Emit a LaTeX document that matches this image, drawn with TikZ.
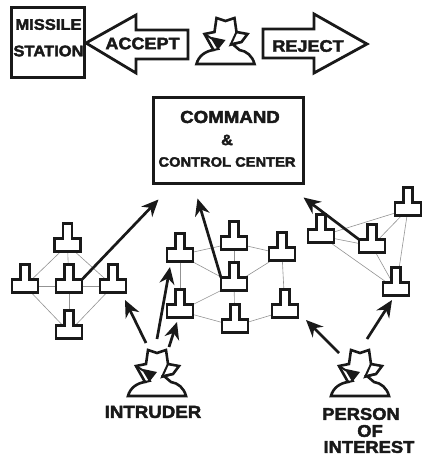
\documentclass[tikz,border=0pt]{standalone}
\usepackage{fontspec}
\setmainfont[BoldFeatures={FakeBold=2.5, FakeStretch=1.08}]{Liberation Sans}
\usetikzlibrary{arrows.meta}
\usetikzlibrary{calc}

\begin{document}
\begin{tikzpicture}[
    x=1pt, y=-1pt,
    % Node styles
    sensor/.style={rectangle, minimum width=26pt, minimum height=13pt, inner sep=0pt, outer sep=0pt},
    sensorline/.style={line width=2.8pt, draw=black!90, fill=white, line join=miter},
    caption/.style={inner sep=0pt, font=\bfseries, text=black!90},
    % Boxes and the two big arrows
    framebox/.style={line width=3pt, draw=black!90},
    bigarrow/.style={line width=2.8pt, draw=black!90, line join=miter},
    % Links and arrows of the network
    link/.style={line width=0.6pt, draw=gray!85},
    flow/.style={line width=2.7pt, draw=black!90, -{Stealth[length=17pt, width=15pt]}},
    % Hooded figure
    agent/.pic={
        \draw[line width=2.6pt, draw=black!90, fill=white, line join=miter]
            (-29,0) .. controls (-27,-8) and (-20,-13) .. (-12,-14)
            -- (-21,-30) -- (-11,-32) -- (-9,-46) -- (0,-43) -- (9,-46) -- (11,-32)
            -- (22,-30) -- (16,-22) -- (7,-20) -- (14,-14)
            .. controls (21,-13) and (27,-8) .. (29,0) -- cycle;
        \fill[black!90] (-14,-27) -- (0,-24) -- (-7,-15) -- (-10,-20) -- cycle;
        \draw[line width=2pt, black!90] (-21,-30) -- (-13,-25) -- (-7,-15) -- (-12,-14);
        \draw[line width=2pt, black!90] (11,-32) -- (5,-19) -- (16,-22);
    }
]

    % =========================================================================
    % 1. TOP ROW: STATION, ACCEPT / REJECT
    % =========================================================================
    \useasboundingbox (0,0) rectangle (428,460);

    \node[framebox, draw, minimum width=73pt, minimum height=70pt] (station) at (48,42.5) {};
    \node[caption, font=\bfseries\fontsize{15.3}{15.3}\selectfont] (missile) at (48.5,24.5) {MISSILE};
    \node[caption, font=\bfseries\fontsize{15.3}{15.3}\selectfont] (stationtext) at (48.5,51) {STATION};

    \draw[bigarrow] (86,43) -- (136,15) -- (136,30) -- (188,30) -- (188,59) -- (136,59) -- (136,73) -- cycle;
    \node[caption, font=\bfseries\fontsize{16.7}{16.7}\selectfont] (accept) at (142.5,43.5) {ACCEPT};

    \draw[bigarrow] (367,44) -- (314,14) -- (314,29) -- (263,29) -- (263,58) -- (314,58) -- (314,73) -- cycle;
    \node[caption, font=\bfseries\fontsize{16.7}{16.7}\selectfont] (reject) at (308,46) {REJECT};

    % =========================================================================
    % 2. COMMAND CENTER
    % =========================================================================
    \node[framebox, draw, minimum width=150pt, minimum height=86pt] (command) at (228,140) {};
    \node[caption, font=\bfseries\fontsize{17.3}{17.3}\selectfont] (commandtext) at (230,117) {COMMAND};
    \node[caption, font=\bfseries\fontsize{15}{15}\selectfont] (ampersand) at (227,140) {\&};
    \node[caption, font=\bfseries\fontsize{13.6}{13.6}\selectfont] (controltext) at (227,162) {CONTROL CENTER};

    % =========================================================================
    % 3. SENSOR NETWORKS
    % =========================================================================
    \def\sensorlist{a1/67.5/245, a2/25/286, a3/69/286, a4/113/286, a5/69/332,
        b1/180/255, b2/180/311, b3/234/243, b4/234/284, b5/235/326, b6/282/254, b7/285/311,
        c1/321/236, c2/372/246, c3/408/209, c4/396/289}

    \foreach \n/\x/\y in \sensorlist {
        \node[sensor] (\n) at (\x,\y) {};
    }

    % --- Links ---
    \foreach \p/\q in {a1/a2, a1/a3, a1/a4, a2/a3, a3/a4, a3/a5, a2/a5, a4/a5,
                       b1/b2, b1/b3, b1/b4, b2/b4, b2/b5, b3/b4, b3/b6, b4/b6, b4/b5, b5/b7, b6/b7,
                       c1/c2, c1/c3, c1/c4, c2/c3, c2/c4, c3/c4} {
        \draw[link] (\p) -- (\q);
    }

    % --- Sensor outlines ---
    \foreach \n/\x/\y in \sensorlist {
        \draw[sensorline] (\n.south west) -- (\n.south east) -- (\n.north east)
            -- ++(-8.5,0) -- ++(0,-15) -- ++(-9,0) -- ++(0,15) -- (\n.north west) -- cycle;
    }

    % =========================================================================
    % 4. FIGURES AND THEIR LABELS
    % =========================================================================
    \coordinate (chief) at (225.5,64);
    \coordinate (intruder) at (157,396);
    \coordinate (person) at (360,396);
    \foreach \n in {chief, intruder, person} {
        \pic at (\n) {agent};
    }

    \node[caption, font=\bfseries\fontsize{17.3}{17.3}\selectfont] (intrudertext) at (153,412) {INTRUDER};
    \node[caption, font=\bfseries\fontsize{17}{17}\selectfont] (persontext) at (361,414) {PERSON};
    \node[caption, font=\bfseries\fontsize{17}{17}\selectfont] (oftext) at (370,431) {OF};
    \node[caption, font=\bfseries\fontsize{17}{17}\selectfont] (interesttext) at (369,447) {INTEREST};

    % =========================================================================
    % 5. ARROWS
    % =========================================================================
    \draw[flow] (a3.north east) -- ($(command.south west)+(7,15)$);
    \draw[flow] (b4.north west) -- ($(command.south west)+(46,14)$);
    \draw[flow] (c2.north west) -- ($(command.south east)+(-1,13)$);

    \draw[flow] ($(intruder)+(-11,-53)$) -- ($(a4)+(12,14)$);
    \draw[flow] ($(intruder)+(0,-57)$) -- ($(b1)+(-10,12)$);
    \draw[flow] ($(intruder)+(12,-49)$) -- ($(b2)+(-3,11)$);

    \draw[flow] ($(person)+(-21,-43)$) -- ($(b7)+(21,9)$);
    \draw[flow] ($(person)+(7,-57)$) -- ($(c4)+(-4,11)$);

\end{tikzpicture}
\end{document}
